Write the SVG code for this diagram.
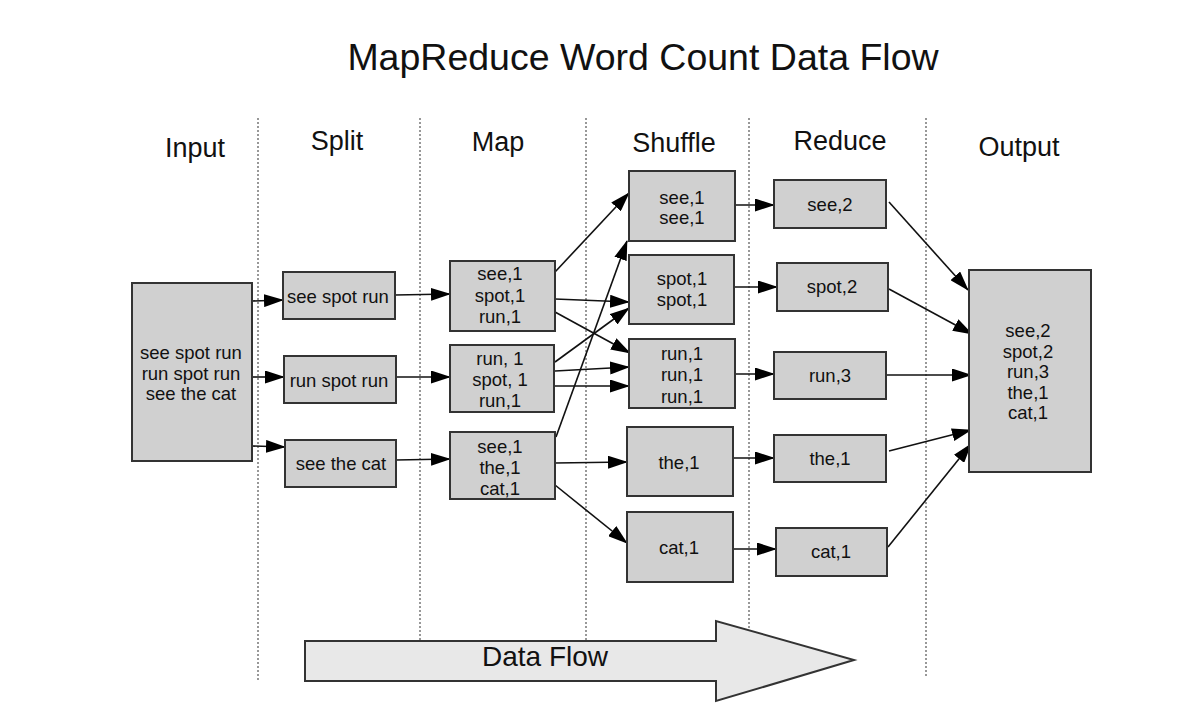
<svg xmlns="http://www.w3.org/2000/svg" width="1187" height="727" viewBox="0 0 1187 727">
<style>
text{font-family:"Liberation Sans",Arial,sans-serif;fill:#111;}
.title{font-size:37.5px;}
.hdr{font-size:27px;}
.t{font-size:18.5px;text-anchor:middle;dominant-baseline:central;}
.box{fill:#d0d0d0;stroke:#333;stroke-width:2;}
.sep{stroke:#777;stroke-width:1.5;stroke-dasharray:2 2;fill:none;}
.c{stroke:#111;stroke-width:1.6;fill:none;marker-end:url(#ah);}
</style>
<defs>
<marker id="ah" markerUnits="userSpaceOnUse" markerWidth="20" markerHeight="13" refX="19" refY="6.5" orient="auto">
<path d="M0,0 L20,6.5 L0,13 Z" fill="#000"/>
</marker>
</defs>
<rect width="1187" height="727" fill="#fff"/>
<text class="title" x="643" y="57" text-anchor="middle" dominant-baseline="central">MapReduce Word Count Data Flow</text>
<g id="separators">
<line class="sep" x1="258" y1="118" x2="258" y2="682"/>
<line class="sep" x1="420" y1="118" x2="420" y2="682"/>
<line class="sep" x1="586" y1="118" x2="586" y2="682"/>
<line class="sep" x1="749" y1="118" x2="749" y2="682"/>
<line class="sep" x1="926" y1="118" x2="926" y2="678"/>
</g>
<g id="headers" class="hdr">
<text x="195" y="148" text-anchor="middle" dominant-baseline="central">Input</text>
<text x="337" y="141" text-anchor="middle" dominant-baseline="central">Split</text>
<text x="498" y="142" text-anchor="middle" dominant-baseline="central">Map</text>
<text x="674" y="143" text-anchor="middle" dominant-baseline="central">Shuffle</text>
<text x="840" y="141" text-anchor="middle" dominant-baseline="central">Reduce</text>
<text x="1019" y="147" text-anchor="middle" dominant-baseline="central">Output</text>
</g>
<g id="connectors">
<line class="c" x1="252" y1="301" x2="283" y2="300"/>
<line class="c" x1="252" y1="377" x2="284" y2="377"/>
<line class="c" x1="252" y1="446" x2="285" y2="447"/>
<line class="c" x1="395" y1="295" x2="450" y2="294"/>
<line class="c" x1="396" y1="377" x2="450" y2="377"/>
<line class="c" x1="396" y1="460" x2="450" y2="459"/>
<line class="c" x1="555" y1="272" x2="629" y2="193"/>
<line class="c" x1="555" y1="299" x2="629" y2="302"/>
<line class="c" x1="555" y1="312" x2="630" y2="353"/>
<line class="c" x1="555" y1="362" x2="629" y2="308"/>
<line class="c" x1="555" y1="371" x2="629" y2="367"/>
<line class="c" x1="555" y1="386" x2="629" y2="386"/>
<line class="c" x1="556" y1="437" x2="627" y2="241"/>
<line class="c" x1="555" y1="463" x2="627" y2="462"/>
<line class="c" x1="555" y1="485" x2="627" y2="543"/>
<line class="c" x1="735" y1="205" x2="774" y2="205"/>
<line class="c" x1="734" y1="287" x2="777" y2="287"/>
<line class="c" x1="735" y1="374" x2="774" y2="374"/>
<line class="c" x1="733" y1="458" x2="774" y2="458"/>
<line class="c" x1="733" y1="549" x2="776" y2="549"/>
<line class="c" x1="889" y1="202" x2="968" y2="290"/>
<line class="c" x1="889" y1="289" x2="972" y2="334"/>
<line class="c" x1="886" y1="375" x2="971" y2="375"/>
<line class="c" x1="889" y1="451" x2="971" y2="430"/>
<line class="c" x1="888" y1="547" x2="971" y2="444"/>
</g>
<g id="input">
<rect class="box" x="132" y="283" width="120" height="178"/>
<text class="t" x="191" y="352">see spot run</text>
<text class="t" x="191" y="373">run spot run</text>
<text class="t" x="191" y="393">see the cat</text>
</g>
<g id="split1"><rect class="box" x="283" y="272" width="112" height="47"/><text class="t" x="338" y="296">see spot run</text></g>
<g id="split2"><rect class="box" x="284" y="356" width="112" height="47"/><text class="t" x="339" y="380">run spot run</text></g>
<g id="split3"><rect class="box" x="285" y="440" width="111" height="47"/><text class="t" x="341" y="463">see the cat</text></g>
<g id="map1"><rect class="box" x="450" y="261" width="105" height="70"/>
<text class="t" x="500" y="273">see,1</text><text class="t" x="500" y="295">spot,1</text><text class="t" x="500" y="316">run,1</text></g>
<g id="map2"><rect class="box" x="450" y="345" width="104" height="67"/>
<text class="t" x="500" y="358">run, 1</text><text class="t" x="500" y="379">spot, 1</text><text class="t" x="500" y="400">run,1</text></g>
<g id="map3"><rect class="box" x="450" y="432" width="105" height="67"/>
<text class="t" x="500" y="446">see,1</text><text class="t" x="500" y="467">the,1</text><text class="t" x="500" y="488">cat,1</text></g>
<g id="shuffle1"><rect class="box" x="629" y="171" width="106" height="70"/>
<text class="t" x="682" y="197">see,1</text><text class="t" x="682" y="217">see,1</text></g>
<g id="shuffle2"><rect class="box" x="629" y="255" width="105" height="69"/>
<text class="t" x="682" y="278">spot,1</text><text class="t" x="682" y="299">spot,1</text></g>
<g id="shuffle3"><rect class="box" x="629" y="339" width="106" height="69"/>
<text class="t" x="682" y="353">run,1</text><text class="t" x="682" y="374">run,1</text><text class="t" x="682" y="396">run,1</text></g>
<g id="shuffle4"><rect class="box" x="627" y="427" width="106" height="69"/><text class="t" x="679" y="462">the,1</text></g>
<g id="shuffle5"><rect class="box" x="627" y="512" width="106" height="70"/><text class="t" x="679" y="547">cat,1</text></g>
<g id="reduce1"><rect class="box" x="774" y="180" width="112" height="48"/><text class="t" x="830" y="204">see,2</text></g>
<g id="reduce2"><rect class="box" x="777" y="263" width="111" height="48"/><text class="t" x="832" y="286">spot,2</text></g>
<g id="reduce3"><rect class="box" x="774" y="352" width="112" height="47"/><text class="t" x="830" y="375">run,3</text></g>
<g id="reduce4"><rect class="box" x="774" y="435" width="112" height="47"/><text class="t" x="830" y="458">the,1</text></g>
<g id="reduce5"><rect class="box" x="776" y="528" width="111" height="48"/><text class="t" x="831" y="551">cat,1</text></g>
<g id="output"><rect class="box" x="969" y="270" width="122" height="202"/>
<text class="t" x="1028" y="330">see,2</text><text class="t" x="1028" y="351">spot,2</text><text class="t" x="1028" y="371">run,3</text><text class="t" x="1028" y="392">the,1</text><text class="t" x="1028" y="412">cat,1</text></g>
<g id="dataflow">
<path d="M305,641 L716,641 L716,621 L854,660 L716,701 L716,681 L305,681 Z" fill="#e8e8e8" stroke="#333" stroke-width="2"/>
<text x="545" y="656" font-size="28" text-anchor="middle" dominant-baseline="central">Data Flow</text>
</g>
</svg>
